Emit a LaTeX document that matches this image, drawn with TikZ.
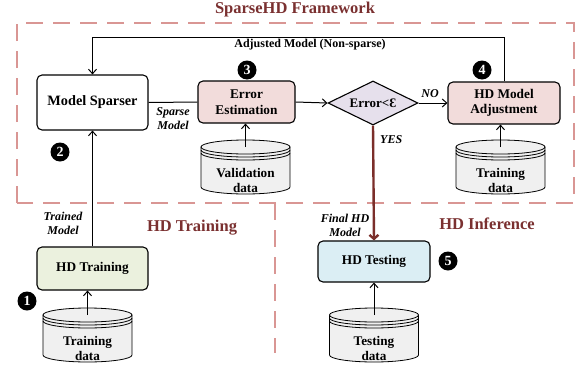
\documentclass[tikz,border=0pt]{standalone}
\usepackage{fontspec}
\setmainfont{Liberation Serif}
\usetikzlibrary{arrows.meta,shapes.geometric,calc}

\definecolor{frame}{HTML}{D99694}
\definecolor{titlered}{HTML}{7A3030}
\definecolor{pinkfill}{HTML}{F2DCDB}
\definecolor{greenfill}{HTML}{EBF1DE}
\definecolor{bluefill}{HTML}{DBEEF4}
\definecolor{lilac}{HTML}{E6E0EC}
\definecolor{dbfill}{HTML}{F0F0F0}
\definecolor{yesred}{HTML}{7B2E2A}

\tikzset{
  box/.style={draw, rounded corners=5pt, line width=1.1pt, align=center,
    font=\fontsize{13.3}{15.5}\selectfont\bfseries, inner sep=0pt},
  arr/.style={line width=1pt, -{Straight Barb[length=4.5pt,width=8pt]}},
  conn/.style={line width=1pt},
  lbl/.style={font=\fontsize{12}{14}\selectfont\bfseries\itshape, align=center, inner sep=0pt},
  region/.style={font=\fontsize{16.5}{18}\selectfont\bfseries, text=titlered, inner sep=0pt},
  badge/.style={circle, fill=black, text=white, inner sep=0pt, minimum size=19pt,
    font=\fontsize{14}{14}\selectfont\bfseries},
  frameline/.style={draw=frame, line width=2pt, dash pattern=on 17pt off 10pt},
  pics/dbcyl/.style={code={
    \filldraw[fill=dbfill, line width=0.8pt] (-44.5,0) -- (-44.5,40)
      arc[start angle=180, end angle=0, x radius=44.5, y radius=7] -- (44.5,0) -- cycle;
    \filldraw[fill=dbfill, line width=0.8pt] (0,0) ellipse [x radius=44.5, y radius=7];
    \draw[line width=0.8pt] (-44.5,3) arc[start angle=180, end angle=0, x radius=44.5, y radius=7];
    \draw[line width=0.8pt] (-44.5,6) arc[start angle=180, end angle=0, x radius=44.5, y radius=7];
    \coordinate (-top) at (0,0);
    \node[font=\fontsize{13.2}{15}\selectfont\bfseries, align=center, inner sep=0pt] (-txt) at (0,33) {#1};
  }}
}

\begin{document}
\begin{tikzpicture}[x=1pt, y=-1pt]
  \useasboundingbox (0,0) rectangle (584,370);

  % framework and phase borders
  \draw[frameline] (17,203) -- (17,23) -- (574,23) -- (574,203) -- cycle;
  \draw[frameline] (275,203) -- (275,353);

  % region titles
  \node[region] (ttl) at (295,10) {SparseHD Framework};
  \node[region] (ttrain) at (192,228) {HD Training};
  \node[region] (tinf) at (487,224) {HD Inference};

  % process boxes
  \node[box, fill=white, minimum width=111pt, minimum height=55pt,
        font=\fontsize{14.3}{16}\selectfont\bfseries] (sparser) at (92.5,102.5) {Model Sparser};
  \node[box, fill=pinkfill, minimum width=97pt, minimum height=42pt] (est) at (246.5,102) {Error\\Estimation};
  \node[draw, diamond, fill=lilac, line width=1.1pt, aspect=2, minimum width=90pt, minimum height=44pt,
        inner sep=0pt, font=\fontsize{13}{15}\selectfont\bfseries] (dia) at (373,103) {Error<Ɛ};
  \node[box, fill=pinkfill, minimum width=112pt, minimum height=42pt] (adj) at (504,103) {HD Model\\Adjustment};
  \node[box, fill=greenfill, minimum width=111pt, minimum height=43pt] (train) at (92.5,268.5) {HD Training};
  \node[box, fill=bluefill, minimum width=112pt, minimum height=41pt] (test) at (374,261.5) {HD Testing};

  % data stores
  \pic (dbtr) at (87.5,315) {dbcyl={Training\\data}};
  \pic (dbval) at (245.5,147) {dbcyl={Validation\\data}};
  \pic (dbadj) at (500.5,147) {dbcyl={Training\\data}};
  \pic (dbtest) at (374,315) {dbcyl={Testing\\data}};

  % data inputs
  \draw[arr] (dbtr-top) -- (dbtr-top |- train.south);
  \draw[arr] (dbval-top) -- (dbval-top |- est.south);
  \draw[arr] (dbadj-top) -- (dbadj-top |- adj.south);
  \draw[arr] (dbtest-top) -- (test.south);

  % main flow
  \draw[arr] (train.north) -- (sparser.south);
  \draw[conn] (sparser.east) -- (est.west);
  \draw[arr] (est.east) -- (dia.west);
  \draw[arr] (dia.east) -- (adj.west);
  \draw[yesred, line width=2.4pt, -{Straight Barb[length=4pt,width=9pt]}] (dia.south) -- (test.north);
  \coordinate (fb) at ($(adj.north)+(0,-44)$);
  \draw[arr] (adj.north) -- (fb) -| (sparser.north);

  % connector labels
  \node[font=\fontsize{12}{14}\selectfont\bfseries, inner sep=0pt] (adjlbl) at (310,45) {Adjusted Model (Non-sparse)};
  \node[lbl] (lsparse) at (173,119) {Sparse\\Model};
  \node[lbl] (lno) at (430,94) {NO};
  \node[lbl, anchor=west] (lyes) at (380,140) {YES};
  \node[lbl] (ltrained) at (63,223) {Trained\\Model};
  \node[lbl] (lfinal) at (345,225) {Final HD\\Model};

  % step markers
  \node[badge] (b1) at (27,301) {1};
  \node[badge] (b2) at (60,152) {2};
  \node[badge] (b3) at (247,70) {3};
  \node[badge] (b4) at (482,70) {4};
  \node[badge] (b5) at (448,261) {5};
\end{tikzpicture}
\end{document}
